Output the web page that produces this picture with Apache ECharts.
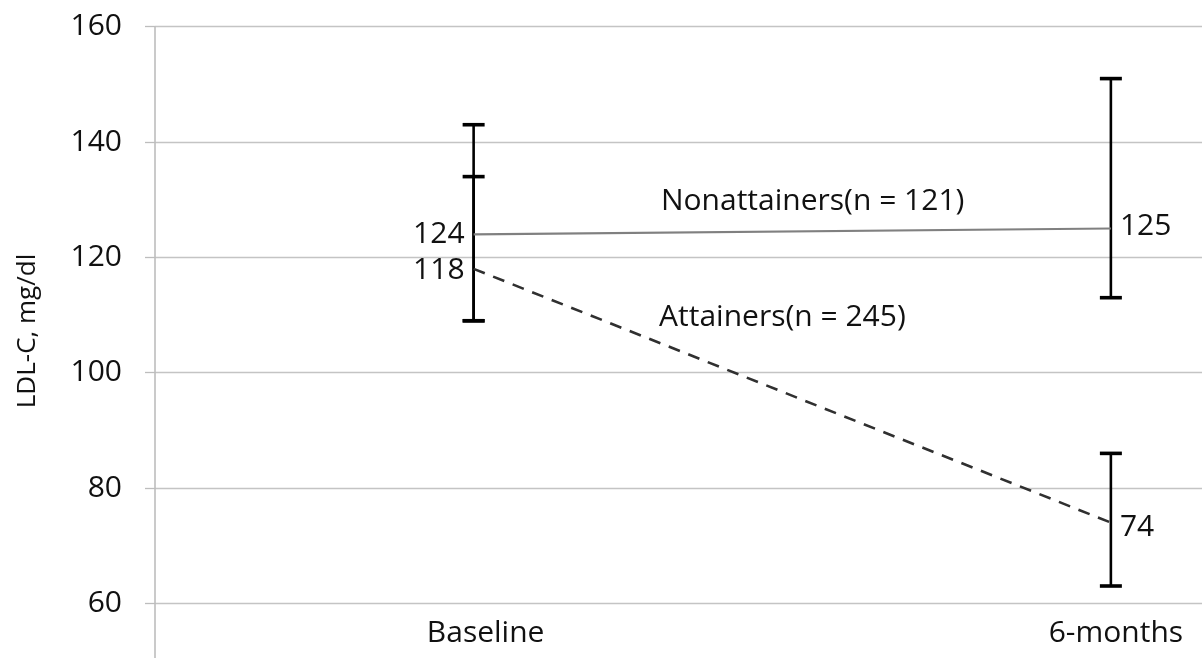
<!DOCTYPE html>
<html>
<head>
<meta charset="utf-8">
<script src="https://cdn.jsdelivr.net/npm/echarts@6/dist/echarts.min.js"></script>
<style>
html,body{margin:0;padding:0;background:#fff;}
#c{width:1202px;height:658px;}
</style>
</head>
<body>
<div id="c"></div>
<script>
// ---- data ----
var categories = ['Baseline', '6-months'];
var yTicks = [60, 80, 100, 120, 140, 160];
var nonattainersMean = [124, 125];
var nonattainersLow  = [109, 113];
var nonattainersHigh = [143, 151];
var attainersMean = [118, 74];
var attainersLow  = [109, 63];
var attainersHigh = [134, 86];
var nonattainersName = 'Nonattainers(n = 121)';
var attainersName = 'Attainers(n = 245)';
// annotation anchor points (data space)
var nonattainersNote = [0.294, 129.7];
var attainersNote = [0.291, 109.5];

var FONT = 'Open Sans';
var FS = 30;
var chart = echarts.init(document.getElementById('c'), null, {renderer: 'canvas'});

function pts(arr) { return arr.map(function (v, i) { return [i, v]; }); }
function errData(lo, hi) { return lo.map(function (v, i) { return [i, v, hi[i]]; }); }

function errRender(params, api) {
  var x = api.value(0);
  var lo = api.coord([x, api.value(1)]);
  var hi = api.coord([x, api.value(2)]);
  var cw = 11;
  var st = {stroke: '#000', lineWidth: 2.6};
  var cap = {stroke: '#000', lineWidth: 3.6};
  return {
    type: 'group',
    children: [
      {type: 'line', shape: {x1: lo[0], y1: lo[1], x2: hi[0], y2: hi[1]}, style: st},
      {type: 'line', shape: {x1: lo[0] - cw, y1: lo[1], x2: lo[0] + cw, y2: lo[1]}, style: cap},
      {type: 'line', shape: {x1: hi[0] - cw, y1: hi[1], x2: hi[0] + cw, y2: hi[1]}, style: cap}
    ]
  };
}

function lbl(pos, dy) {
  return {show: true, position: pos, distance: 9, offset: [0, dy || 0], color: '#111', fontSize: FS, fontFamily: FONT,
          formatter: function (p) { return p.value[1]; }};
}

var option = {
  animation: false,
  backgroundColor: '#fff',
  grid: {left: 155, right: 0, top: 26.7, bottom: 54.7, containLabel: false, outerBoundsMode: 'none'},
  xAxis: {
    type: 'value', min: -0.5, max: 1.143, interval: 0.5,
    axisLine: {show: false}, axisTick: {show: false}, splitLine: {show: false},
    axisLabel: {
      margin: 15, color: '#111', fontSize: FS, fontFamily: FONT, showMaxLabel: false, showMinLabel: false,
      formatter: function (v) {
        var i = Math.round(v);
        if (Math.abs(v - i) < 1e-6 && categories[i] != null) {
          return '{c' + i + '|' + categories[i] + '}';
        }
        return '';
      },
      rich: {
        c0: {fontSize: FS, fontFamily: FONT, color: '#111', padding: [0, 0, 0, 24]},
        c1: {fontSize: FS, fontFamily: FONT, color: '#111', padding: [0, 0, 0, 10]}
      }
    }
  },
  yAxis: {
    type: 'value', min: yTicks[0], max: yTicks[yTicks.length - 1], interval: yTicks[1] - yTicks[0],
    name: 'LDL-C, mg/dl', nameLocation: 'middle', nameGap: 114, nameRotate: 90,
    nameTextStyle: {color: '#111', fontSize: 26, fontFamily: FONT, padding: [0, 32, 0, 0]},
    axisLine: {show: true, onZero: false, lineStyle: {color: '#bdbdbd', width: 1.6}},
    axisTick: {show: true, length: 10, lineStyle: {color: '#bdbdbd', width: 1.3}},
    splitLine: {show: true, lineStyle: {color: '#c4c4c4', width: 1.3}},
    axisLabel: {margin: 33, color: '#111', fontSize: FS, fontFamily: FONT}
  },
  series: [
    {
      type: 'custom', name: 'nonErr', renderItem: errRender, data: errData(nonattainersLow, nonattainersHigh), z: 3,
      encode: {x: 0, y: [1, 2]}
    },
    {
      type: 'custom', name: 'attErr', renderItem: errRender, data: errData(attainersLow, attainersHigh), z: 3,
      encode: {x: 0, y: [1, 2]}
    },
    {
      type: 'line', name: nonattainersName, data: pts(nonattainersMean).map(function (d, i) {
        return {value: d, label: i === 0 ? lbl('left', 0) : lbl('right', -2)};
      }),
      symbol: 'circle', showSymbol: true, symbolSize: 0.1, itemStyle: {color: '#808080'},
      lineStyle: {color: '#808080', width: 2.2, type: 'solid'}, z: 4,
      markPoint: {
        symbol: 'circle', symbolSize: 0,
        data: [{coord: nonattainersNote, value: nonattainersName,
          label: {show: true, position: 'right', distance: 0, color: '#111', fontSize: FS, fontFamily: FONT,
                  formatter: nonattainersName}}]
      }
    },
    {
      type: 'line', name: attainersName, data: pts(attainersMean).map(function (d, i) {
        return {value: d, label: i === 0 ? lbl('left', 2) : lbl('right', 5)};
      }),
      symbol: 'circle', showSymbol: true, symbolSize: 0.1, itemStyle: {color: '#303030'},
      lineStyle: {color: '#303030', width: 2.6, type: [12, 9]}, z: 4,
      markPoint: {
        symbol: 'circle', symbolSize: 0,
        data: [{coord: attainersNote, value: attainersName,
          label: {show: true, position: 'right', distance: 0, color: '#111', fontSize: FS, fontFamily: FONT,
                  formatter: attainersName}}]
      }
    }
  ]
};
chart.setOption(option);

// extend the vertical axis line below the plot area, as in the reference
var p0 = chart.convertToPixel({gridIndex: 0}, [-0.5, yTicks[0]]);
chart.setOption({
  graphic: [{type: 'line', silent: true, z: 1,
    shape: {x1: p0[0], y1: p0[1], x2: p0[0], y2: 658},
    style: {stroke: '#bdbdbd', lineWidth: 1.6}}]
});
</script>
</body>
</html>
